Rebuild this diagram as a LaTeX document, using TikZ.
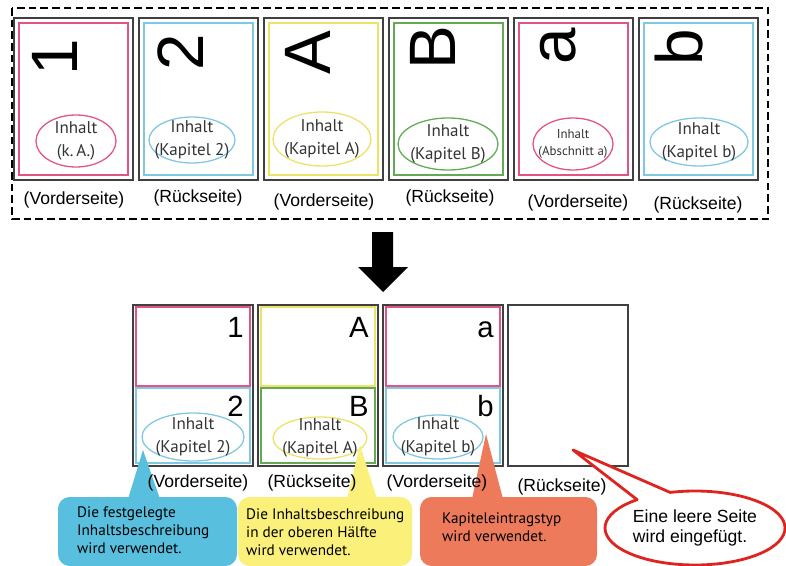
\documentclass[tikz,border=0pt]{standalone}
\usepackage{fontspec}
\setmainfont{Liberation Sans}
\newfontfamily\myriad{PT Sans}
\usetikzlibrary{calc}

\definecolor{rosa}{RGB}{226,84,132}
\definecolor{hellblau}{RGB}{128,200,226}
\definecolor{gelb}{RGB}{236,226,104}
\definecolor{gruen}{RGB}{100,170,84}
\definecolor{blaukasten}{RGB}{88,192,222}
\definecolor{gelbkasten}{RGB}{250,240,122}
\definecolor{orangekasten}{RGB}{238,122,92}
\definecolor{rot}{RGB}{222,36,30}

\tikzset{
  rahmen/.style={draw=black!75,line width=1pt},
  innen/.style={line width=1.1pt},
  gross/.style={font=\fontsize{56}{60}\selectfont,inner sep=0pt,rotate=90,anchor=base},
  klein/.style={font=\fontsize{25}{28}\selectfont,inner sep=0pt,anchor=base east},
  seite/.style={font=\fontsize{15}{18}\selectfont},
  hinweis/.style={font=\myriad\fontsize{13}{15.5}\selectfont,align=left,anchor=west,inner sep=0pt},
}

\begin{document}
\begin{tikzpicture}[x=0.03cm,y=-0.03cm]
  \useasboundingbox (0,0) rectangle (786,566);
  % Eingabe: gestrichelter Rahmen um die sechs Seiten
  \draw[dashed,line width=2pt,dash pattern=on 6.5pt off 3.5pt] (12,8) rectangle (768,219);
  \foreach \i/\col in {0/rosa,1/hellblau,2/gelb,3/gruen,4/rosa,5/hellblau} {
    \draw[rahmen] ({14+125*\i},18) rectangle ++(119,162);
    \draw[innen,\col] ({19+125*\i},23) rectangle ++(109,152);
  }
  % gedrehte Kapitelnummern
  \foreach \ch/\bx/\cy [count=\n] in {1/77/57,2/203/52,A/330/53,B/455/48,a/575/46,b/702/47}
    \node[gross] (gross\n) at (\bx,\cy) {\ch};
  % Inhalt-Ellipsen
  \foreach \mx/\my/\rx/\ry/\col/\fs/\bs/\txt [count=\n] in {
      76/141/40/26/rosa/14.5/20/{Inhalt\\(k.\,A.)},
      192/140/43/23/hellblau/14.5/20/{Inhalt\\(Kapitel 2)},
      322/139/49/27/gelb/14.5/20/{Inhalt\\(Kapitel A)},
      448/144/50/26/gruen/14.5/20/{Inhalt\\(Kapitel B)},
      573/144/40/26/rosa/11/14/{Inhalt\\(Abschnitt a)},
      699/142/49/24/hellblau/14.5/20/{Inhalt\\(Kapitel b)}} {
    \draw[innen,\col] (\mx,\my) ellipse [x radius=\rx,y radius=\ry];
    \node[font=\myriad\fontsize{\fs}{\bs}\selectfont,align=center,text=black!80] (inh\n) at (\mx,\my) {\txt};
  }
  \foreach \x/\y/\txt [count=\n] in {74/200/{(Vorderseite)},198/198/{(Rückseite)},324/202/{(Vorderseite)},
      450/198/{(Rückseite)},578/203/{(Vorderseite)},698/205/{(Rückseite)}}
    \node[seite] (seite\n) at (\x,\y) {\txt};

  % Pfeil nach unten
  \fill (372,232) -- (393,232) -- (393,267) -- (408,267) -- (383,292) -- (358,267) -- (372,267) -- cycle;

  % Ausgabe: zwei Seiten je Blatt
  \foreach \i/\oben/\unten in {0/rosa/hellblau,1/gelb/gruen,2/rosa/hellblau} {
    \draw[innen,\oben] ({136+125*\i},307) rectangle ++(114,79);
    \draw[innen,\unten] ({136+125*\i},388) rectangle ++(114,75);
  }
  \foreach \i in {0,...,3}
    \draw[rahmen] ({133+125*\i},305) rectangle ++(120,161);
  \foreach \ch/\i/\y [count=\n] in {1/0/337,2/0/416,A/1/337,B/1/416,a/2/337,b/2/416}
    \node[klein] (klein\n) at ({244+125*\i},\y) {\ch};
  \foreach \mx/\my/\rx/\ry/\col/\txt [count=\n] in {
      193/437/51/24/hellblau/{Inhalt\\(Kapitel 2)},
      320/438/47/21/gelb/{Inhalt\\(Kapitel A)},
      438/437/45/22/hellblau/{Inhalt\\(Kapitel b)}} {
    \draw[innen,\col] (\mx,\my) ellipse [x radius=\rx,y radius=\ry];
    \node[font=\myriad\fontsize{14.5}{19}\selectfont,align=center,text=black!80] (unh\n) at (\mx,\my) {\txt};
  }

  % Hinweise mit Zeiger
  \coordinate (spitze1) at (143,450);
  \coordinate (spitze2) at (360,445);
  \coordinate (spitze3) at (486,434);
  \fill[blaukasten] (spitze1) -- (128,499) -- (160,499) -- cycle;
  \fill[blaukasten,rounded corners=3.5mm] (58,497) rectangle (237,566);
  \fill[gelbkasten] (spitze2) -- (347,499) -- (377,499) -- cycle;
  \fill[gelbkasten,rounded corners=3.5mm] (238,497) rectangle (412,566);
  \fill[orangekasten] (spitze3) -- (472,499) -- (503,499) -- cycle;
  \fill[orangekasten,rounded corners=3.5mm] (420,497) rectangle (597,566);
  \node[hinweis] (hinweis1) at (77,530) {Die festgelegte\\Inhaltsbeschreibung\\wird verwendet.};
  \node[hinweis] (hinweis2) at (246,532) {Die Inhaltsbeschreibung\\in der oberen Hälfte\\wird verwendet.};
  \node[hinweis] (hinweis3) at (442,527) {Kapiteleintragstyp\\wird verwendet.};
  \foreach \x/\y/\txt [count=\n] in {198/483/{(Vorderseite)},312/483/{(Rückseite)},437/483/{(Vorderseite)},562/487/{(Rückseite)}}
    \node[seite] (useite\n) at (\x,\y) {\txt};

  % Sprechblase für die leere Seite
  \coordinate (spitze4) at (573,450);
  \coordinate (blase) at (695,528);
  \draw[rot,line width=2.4pt,fill=white,line join=round]
    (spitze4) -- ($(blase)+(-130:90 and 37)$) arc[start angle=-130,end angle=-466,x radius=90,y radius=37] -- cycle;
  \node[font=\fontsize{15}{17}\selectfont,align=left] (leer) at (blase) {Eine leere Seite\\wird eingefügt.};
\end{tikzpicture}
\end{document}
